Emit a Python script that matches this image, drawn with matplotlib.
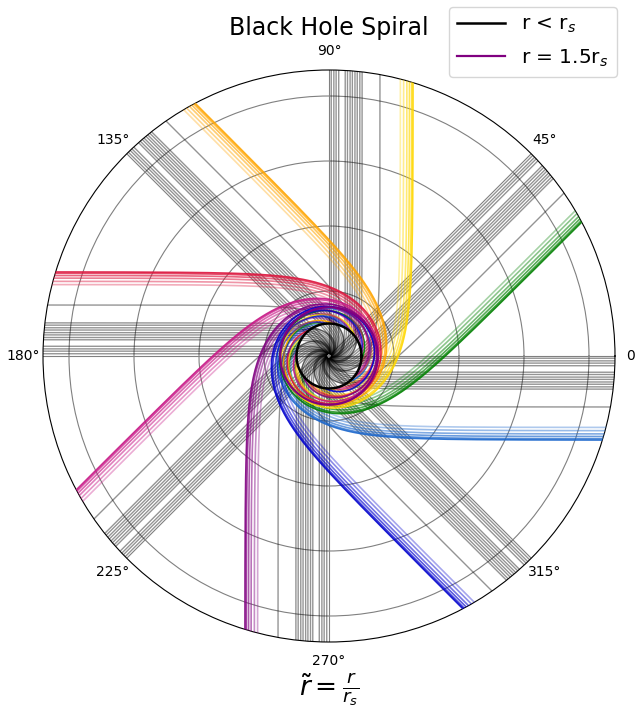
import numpy as np
import matplotlib
matplotlib.use("Agg")
import matplotlib.pyplot as plt

# ---- data ----
beam_angles_deg = [0, 45, 90, 135, 180, 225, 270, 315]
beam_colors = ['#1a66cc', 'green', 'gold', 'orange', 'crimson',
               'mediumvioletred', 'purple', 'mediumblue']
captured_b = [0.07, 0.15, 0.22, 0.30, 0.50, 0.57, 0.65, 0.72, 0.80,
              0.87, 0.95, 1.02, 1.57]          # impact parameters (units of r_s), black rays
spiral_b = [2.20, 2.30, 2.40, 2.48, 2.55, 2.59]  # impact parameters, coloured rays
spiral_alpha = [0.35, 0.45, 0.55, 0.65, 0.75, 0.9]
horizon_r = 1.0
photon_r = 1.5
r_max = 8.8


def geodesic(b, u_stop, u0=1/60.0):
    """Schwarzschild null geodesic u''=-u+1.5u^2 (r_s=1), psi = swept angle."""
    def f(y):
        return np.array([y[1], -y[0] + 1.5 * y[0] ** 2])
    psi = np.arcsin(b * u0)
    y = np.array([u0, np.sqrt(max(1 / b ** 2 - u0 ** 2 * (1 - u0), 0.0))])
    ps, us = [psi], [u0]
    n = 0
    while y[0] < u_stop and y[0] > 0.5 * u0 and n < 200000:
        h = min(0.004, 0.01 * max(y[0], 0.1) / (abs(y[1]) + 1e-9))
        k1 = f(y)
        k2 = f(y + 0.5 * h * k1)
        k3 = f(y + 0.5 * h * k2)
        k4 = f(y + h * k3)
        y = y + h / 6 * (k1 + 2 * k2 + 2 * k3 + k4)
        psi += h
        ps.append(psi)
        us.append(y[0])
        n += 1
    ps = np.array(ps)
    us = np.array(us)
    return ps, 1.0 / us


fig = plt.figure(figsize=(6.35, 7.07), dpi=100)
ax = fig.add_axes([43 / 635, 1 - 642 / 707, 572 / 635, 572 / 707], projection='polar')

for ang, col in zip(beam_angles_deg, beam_colors):
    th0 = np.deg2rad(ang)
    for b in captured_b:
        ps, rs = geodesic(b, 12.0)
        ax.plot(th0 - ps, rs, color='k', lw=1.0, alpha=0.42, zorder=2)
for ang, col in zip(beam_angles_deg, beam_colors):
    th0 = np.deg2rad(ang)
    for b, a in zip(spiral_b, spiral_alpha):
        ps, rs = geodesic(b, 1.0 / horizon_r)
        ax.plot(th0 - ps, rs, color=col, lw=1.2, alpha=a, zorder=3)

tt = np.linspace(0, 2 * np.pi, 400)
ax.plot(tt, np.full_like(tt, horizon_r), color='k', lw=1.8, zorder=4, label=r'r < r$_s$')
ax.plot(tt, np.full_like(tt, photon_r), color='purple', lw=1.6, zorder=4, label=r'r = 1.5r$_s$')

ax.set_rmax(r_max)
ax.set_rticks([2, 4, 6, 8])
ax.set_yticklabels([])
ax.grid(True, color='0.5', lw=0.8)
ax.tick_params(axis='x', labelsize=10)
ax.set_title('Black Hole Spiral', fontsize=17)
ax.set_xlabel(r'$\tilde{r} = \frac{r}{r_s}$', fontsize=19)
ax.xaxis.set_label_coords(0.5, -0.052)
fig.legend(loc='upper right', bbox_to_anchor=(627 / 635, 1 + 3 / 707),
           fontsize=14.5, handlelength=2.4, labelspacing=0.6)

fig.savefig('out.png', dpi=100)
